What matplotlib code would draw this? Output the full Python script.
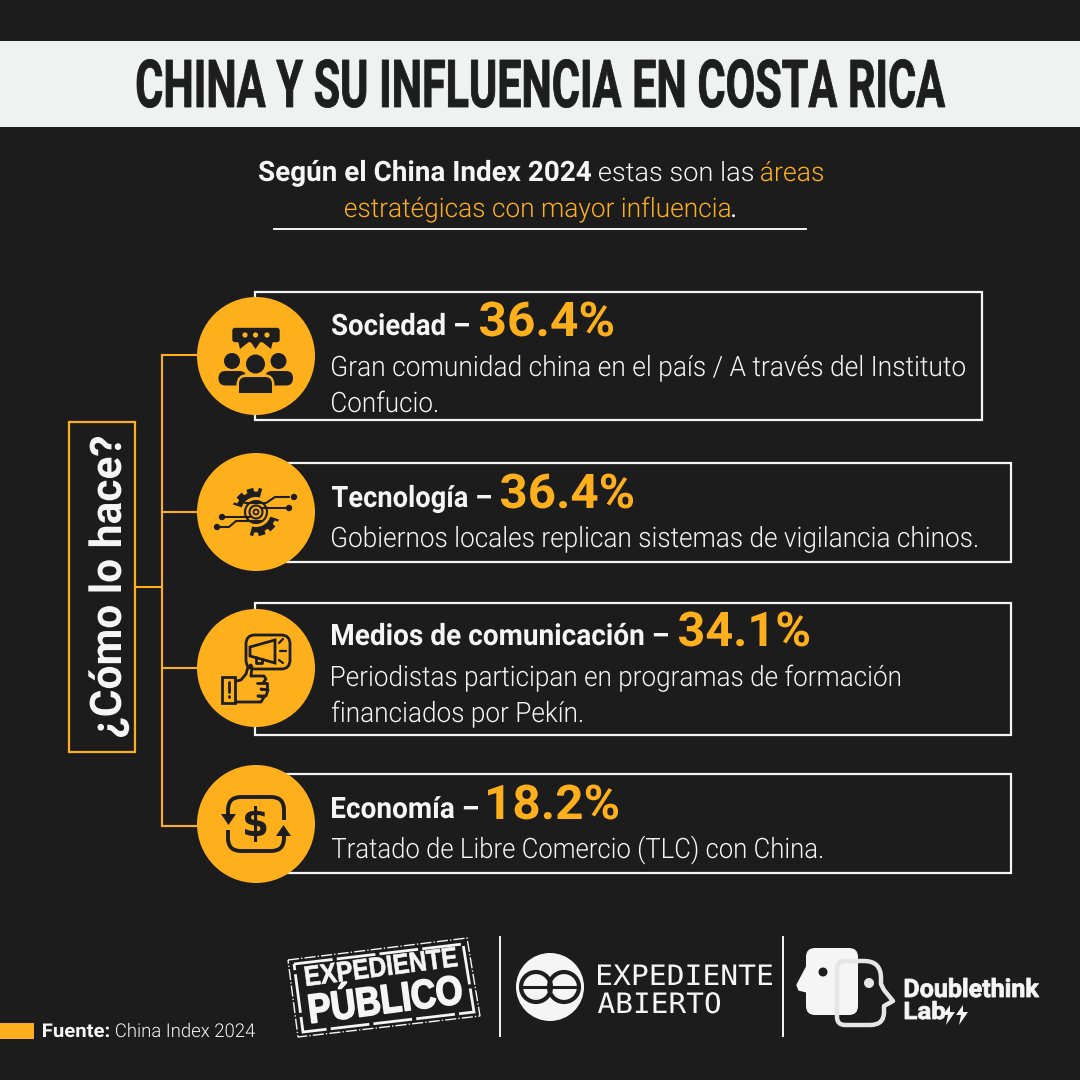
import matplotlib
matplotlib.use("Agg")
import matplotlib.pyplot as plt
from matplotlib.patches import Rectangle, Circle, Polygon, FancyBboxPatch, Wedge, PathPatch
from matplotlib.path import Path
from matplotlib.text import Text
from matplotlib.textpath import TextPath
from matplotlib.font_manager import FontProperties
from matplotlib.transforms import Affine2D, Bbox
from matplotlib.patheffects import AbstractPathEffect
import math

title = "CHINA Y SU INFLUENCIA EN COSTA RICA"
categories = ["Sociedad", "Tecnología", "Medios de comunicación", "Economía"]
percentages = [36.4, 36.4, 34.1, 18.2]
descriptions = [
    ["Gran comunidad china en el país / A través del Instituto", "Confucio."],
    ["Gobiernos locales replican sistemas de vigilancia chinos."],
    ["Periodistas participan en programas de formación", "financiados por Pekín."],
    ["Tratado de Libre Comercio (TLC) con China."],
]
question = "¿Cómo lo hace?"
source_label = "Fuente:"
source_name = "China Index 2024"

BG = "#1C1C1C"; ORANGE = "#FDB01C"; WHITE = "#F4F5F4"; BAND = "#F0F2F1"; DARK = "#1E1E1E"

fig = plt.figure(figsize=(10.8, 10.8), dpi=100, facecolor=BG)
ax = fig.add_axes([0, 0, 1, 1])
ax.set_xlim(0, 1080); ax.set_ylim(1080, 0); ax.axis("off")


class Squeeze(AbstractPathEffect):
    """Draws a text condensed horizontally, with an optional thickening stroke."""
    def __init__(self, sx, stroke=0.0):
        super().__init__()
        self.sx = sx; self.stroke = stroke

    def draw_path(self, renderer, gc, tpath, affine, rgbFace=None):
        gc0 = renderer.new_gc(); gc0.copy_properties(gc)
        if self.stroke > 0 and rgbFace is not None:
            gc0.set_linewidth(self.stroke); gc0.set_foreground(rgbFace)
        renderer.draw_path(gc0, tpath, Affine2D().scale(self.sx, 1) + affine, rgbFace)
        gc0.restore()


class CondensedText(Text):
    """Text whose reported extent is the condensed one that is actually drawn."""
    sx = 1.0

    def get_window_extent(self, renderer=None, dpi=None):
        bb = super().get_window_extent(renderer, dpi)
        ax0, ay0 = self.get_transform().transform(self.get_position())
        if dpi is not None:
            ax0, ay0 = ax0 * dpi / self.get_figure().dpi, ay0 * dpi / self.get_figure().dpi
        tr = (Affine2D().translate(-ax0, -ay0).rotate_deg(-self.get_rotation())
              .scale(self.sx, 1).rotate_deg(self.get_rotation()).translate(ax0, ay0))
        return Bbox.null().union([Bbox(tr.transform(bb.corners()[[0, 3]])),
                                  Bbox(tr.transform(bb.corners()[[1, 2]]))])


def put(x, y, s, width, cap, family="Roboto", weight="normal", color=WHITE, rot=0, stroke=0.0, z=6):
    fp = FontProperties(family=family, weight=weight)
    size_px = cap / 0.711
    ext = TextPath((0, 0), s, size=size_px, prop=fp).get_extents()
    sx = width / ext.width
    a = math.radians(rot)
    start = ext.x0 * sx - 1
    t = CondensedText(x - start * math.cos(a), y + start * math.sin(a), s,
                      fontsize=size_px * 0.72, family=family, weight=weight, color=color,
                      ha="left", va="baseline", rotation=rot, rotation_mode="anchor", zorder=z)
    t.sx = sx
    ax.add_artist(t)
    t.set_path_effects([Squeeze(sx, stroke)])
    return t


# Title band
ax.add_patch(Rectangle((0, 41), 1080, 86, fc=BAND, ec="none"))
put(136, 107, title, 808, 47, weight="bold", color=DARK, stroke=0.6)

# Subtitle
put(258, 181, "Según el China Index 2024", 332, 20, weight="bold")
put(598, 181, "estas son las", 154, 19, weight=300)
put(760, 181, "áreas", 62, 19, color=ORANGE, weight=300)
put(344, 217, "estratégicas con mayor influencia", 385, 19, color=ORANGE, weight=300)
put(731, 217, ".", 3, 19)
ax.plot([274, 806], [229, 229], color=WHITE, lw=1.4)

# Bracket
for yy in [355, 512, 668, 826]:
    ax.plot([162, 200], [yy, yy], color=ORANGE, lw=1.5, zorder=2)
ax.plot([162, 162], [355, 826], color=ORANGE, lw=1.5, zorder=2)
ax.plot([135, 162], [587, 587], color=ORANGE, lw=1.5, zorder=2)
ax.add_patch(Rectangle((69, 422), 66, 330, fc=BG, ec=ORANGE, lw=1.6, zorder=3))
put(121, 738, question, 300, 31, weight="bold", rot=90)

# Boxes, circles and text
box_tops = [292, 463, 603, 774]
box_bots = [420, 562, 735, 873]
box_right = [982, 1011, 1011, 1011]
circle_y = [356, 512, 668, 824]
head_base = [335, 507, 645, 818]
head_w = [137, 159, 336, 146]
pct_x = [479, 500, 678, 487]
pct_w = [133, 132, 130, 130]
body_base = [[376, 412], [547], [686, 722], [858]]
body_w = [[633, 105], [645], [568, 250], [490]]

for i, cat in enumerate(categories):
    ax.add_patch(Rectangle((255, box_tops[i]), box_right[i] - 255, box_bots[i] - box_tops[i],
                           fc="none", ec=WHITE, lw=1.6, zorder=3))
    ax.add_patch(Circle((256, circle_y[i]), 59, fc=ORANGE, ec="none", zorder=4))
    put(331, head_base[i], f"{cat} –", head_w[i], 21, weight="bold")
    put(pct_x[i], head_base[i] + 1, f"{percentages[i]}%", pct_w[i], 34, weight="bold", color=ORANGE)
    for line_text, yb, w in zip(descriptions[i], body_base[i], body_w[i]):
        put(331, yb, line_text, w, 20, weight=300)

Z = 5
def line(xs, ys, lw=2.0, c=DARK):
    ax.plot(xs, ys, color=c, lw=lw, zorder=Z, solid_capstyle="round", solid_joinstyle="round")

# Icon 1: people with speech bubble
ax.add_patch(FancyBboxPatch((233, 328.5), 46, 13, boxstyle="round,pad=0,rounding_size=2", fc=DARK, ec=DARK, lw=1, zorder=Z))
ax.add_patch(Polygon([[238, 341], [250, 341], [240, 349]], fc=DARK, zorder=Z))
ax.add_patch(Polygon([[250, 341], [261, 341], [255.5, 349]], fc=DARK, zorder=Z))
ax.add_patch(Polygon([[261, 341], [273, 341], [271, 349]], fc=DARK, zorder=Z))
for cx in [245, 255.5, 267]:
    ax.add_patch(Circle((cx, 335), 2.6, fc=ORANGE, zorder=Z + 0.1))
for cx, cy, r in [(232, 361, 8), (278.5, 361, 8)]:
    ax.add_patch(Circle((cx, cy), r, fc=DARK, zorder=Z))
ax.add_patch(FancyBboxPatch((218.5, 371), 28, 14.5, boxstyle="round,pad=0,rounding_size=7", fc=DARK, ec="none", zorder=Z))
ax.add_patch(FancyBboxPatch((265, 371), 28, 14.5, boxstyle="round,pad=0,rounding_size=7", fc=DARK, ec="none", zorder=Z))
ax.add_patch(Circle((255.5, 364), 11.5, fc=ORANGE, zorder=Z + 0.1))
ax.add_patch(Circle((255.5, 364), 9.5, fc=DARK, zorder=Z + 0.2))
ax.add_patch(FancyBboxPatch((236.5, 374), 38, 22, boxstyle="round,pad=0,rounding_size=11", fc=ORANGE, ec="none", zorder=Z + 0.1))
ax.add_patch(FancyBboxPatch((239, 377), 33, 15.5, boxstyle="round,pad=0,rounding_size=7", fc=DARK, ec="none", zorder=Z + 0.2))
ax.add_patch(Rectangle((239, 385), 33, 7.5, fc=DARK, ec="none", zorder=Z + 0.2))

# Icon 2: gear and circuits
cx, cy = 256, 512
ax.add_patch(Circle((cx, cy), 20.5, fc=DARK, zorder=Z))
for k in range(12):
    a = math.radians(k * 30 + 15)
    tooth = Rectangle((-3.5, 18), 7, 6, fc=DARK, ec="none", zorder=Z,
                      transform=Affine2D().rotate(a).translate(cx, cy) + ax.transData)
    ax.add_patch(tooth)
ax.add_patch(Circle((cx, cy), 15, fc=ORANGE, zorder=Z + 0.01))
ax.add_patch(Wedge((cx, cy), 26, 285, 378, fc=ORANGE, ec="none", zorder=Z + 0.02))
ax.add_patch(Wedge((cx, cy), 26, 105, 198, fc=ORANGE, ec="none", zorder=Z + 0.02))
Z = 5.1
for r, lw in [(11, 1.5), (6.5, 1.5), (2.5, 1.3)]:
    ax.add_patch(Circle((cx, cy), r, fc="none", ec=DARK, lw=lw, zorder=Z))
line([245, 266, 275, 289], [503, 503, 497, 497], 1.5)
line([262, 268, 289], [508, 508, 508], 1.5)
line([222, 250], [517, 517], 1.5)
line([217, 229, 236, 262], [527, 527, 521, 521], 1.5)
for px, py in [(294, 497), (289, 508), (222, 517), (217, 527)]:
    ax.add_patch(Circle((px, py), 3.2, fc=DARK, zorder=Z))
Z = 5

# Icon 3: megaphone in bubble, thumb up
ax.add_patch(FancyBboxPatch((246, 635), 44, 34, boxstyle="round,pad=0,rounding_size=9", fc="none", ec=DARK, lw=2, zorder=Z))
ax.add_patch(Polygon([[250, 647], [275, 640], [275, 663], [250, 656]], fc=ORANGE, ec=DARK, lw=2, zorder=Z))
line([256, 256, 262, 262], [657, 663, 663, 659], 2)
line([279, 283], [643, 639], 1.6); line([280, 286], [651, 651], 1.6); line([279, 283], [660, 663], 1.6)
ax.add_patch(Rectangle((222, 677), 13, 26, fc=ORANGE, ec=DARK, lw=2, zorder=Z))
line([229, 229], [682, 692], 2); line([229, 229], [696, 697], 2)
ax.add_patch(Rectangle((243, 666), 9, 10, fc=ORANGE, ec="none", zorder=Z - 0.1))
line([236, 241, 246, 248, 251, 252, 251], [681, 680, 674, 667, 665, 667, 676], 2)
line([251, 264, 266, 263], [676, 676, 679, 683], 2)
line([257, 267, 267, 261], [683, 683, 689, 689], 2)
line([261, 268, 266, 258], [689, 690, 696, 696], 2)
line([258, 264, 261, 240, 236], [696, 697, 702, 702, 702], 2)

# Icon 4: money exchange
ax.text(255.5, 836, "$", fontsize=28, family="DejaVu Sans", weight="bold", color=DARK, ha="center", va="baseline", zorder=Z)
ax.add_patch(FancyBboxPatch((228, 797), 56, 54, boxstyle="round,pad=0,rounding_size=13", fc="none", ec=DARK, lw=2.8, zorder=Z - 0.2))
ax.add_patch(Rectangle((222, 814), 14, 16, fc=ORANGE, ec="none", zorder=Z - 0.1))
ax.add_patch(Rectangle((276, 820), 16, 16, fc=ORANGE, ec="none", zorder=Z - 0.1))
ax.add_patch(Polygon([[221, 814], [236, 814], [228.5, 825]], fc=DARK, zorder=Z))
ax.add_patch(Polygon([[276, 836], [291, 836], [283.5, 825]], fc=DARK, zorder=Z))

# Footer source
ax.add_patch(Rectangle((0, 1023), 34, 16, fc=ORANGE, ec="none"))
put(42, 1037, source_label, 66, 13.5, weight="bold")
put(115, 1037, source_name, 139, 13.5, weight=300)

# Separators
for xs in [500, 783]:
    ax.plot([xs, xs], [937, 1036], color=WHITE, lw=1.4)

# Stamp logo
ax.add_patch(Polygon([[288, 960], [467, 938], [480, 1016], [298, 1037]], closed=True, fc="none", ec=WHITE, lw=1, ls=(0, (8, 1.5, 1, 1.5))))
ax.add_patch(Polygon([[294, 964], [463, 944], [474, 1012], [303, 1032]], closed=True, fc="none", ec=WHITE, lw=2.0, ls=(0, (14, 1.5))))
put(306, 986, "EXPEDIENTE", 152, 20, family="Liberation Sans", weight="bold", rot=7.5, stroke=0.5)
put(311, 1023, "PÚBLICO", 152, 29, family="Liberation Sans", weight="bold", rot=7.5, stroke=1.2)

# Expediente Abierto logo
ax.add_patch(Circle((550, 987), 34, fc=WHITE, ec="none"))
for ccx in [536, 564]:
    ax.add_patch(Circle((ccx, 987), 15, fc="none", ec=DARK, lw=3))
ax.plot([522, 578], [987, 987], color=DARK, lw=2.2)
put(597, 985, "EXPEDIENTE", 174, 20, family="DejaVu Sans Mono")
put(597, 1013, "ABIERTO", 122, 20, family="DejaVu Sans Mono")

# Doublethink logo
ax.add_patch(FancyBboxPatch((806, 948), 52, 67, boxstyle="round,pad=0,rounding_size=9", fc=WHITE, ec="none", zorder=3))
ax.add_patch(Polygon([[807, 966], [797, 985], [799, 990], [807, 992]], fc=WHITE, ec=WHITE, lw=1, joinstyle="round", zorder=3))
ax.add_patch(Circle((823, 972), 4.5, fc=DARK, zorder=4))
head_v = [(845, 961), (864, 961), (881, 961), (881, 978), (881, 984), (884, 990), (893, 1001), (884, 1006),
          (884, 1012), (884, 1025), (870, 1025), (845, 1025), (837, 1025), (837, 1017), (837, 969), (837, 961), (845, 961), (845, 961)]
head_c = [Path.MOVETO, Path.LINETO, Path.CURVE3, Path.CURVE3, Path.LINETO, Path.LINETO, Path.LINETO, Path.LINETO,
          Path.LINETO, Path.CURVE3, Path.CURVE3, Path.LINETO, Path.CURVE3, Path.CURVE3, Path.LINETO, Path.CURVE3, Path.CURVE3, Path.CLOSEPOLY]
ax.add_patch(PathPatch(Path(head_v, head_c), fc="none", ec="#E6E6E6", lw=3.2, joinstyle="round", zorder=4))
ax.add_patch(Circle((869, 983), 5, fc="#E6E6E6", zorder=4))
put(904, 997, "Doublethink", 134, 18, weight="bold", stroke=0.6)
put(904, 1019, "Lab", 40, 17, weight="bold", stroke=0.6)
for bx in [951, 964]:
    ax.add_patch(Polygon([[bx - 1, 1005], [bx - 8, 1015], [bx - 3, 1015], [bx - 5, 1025], [bx + 4, 1012], [bx - 1, 1012]], fc=WHITE, zorder=4))

fig.savefig("out.png", dpi=100, facecolor=BG)
